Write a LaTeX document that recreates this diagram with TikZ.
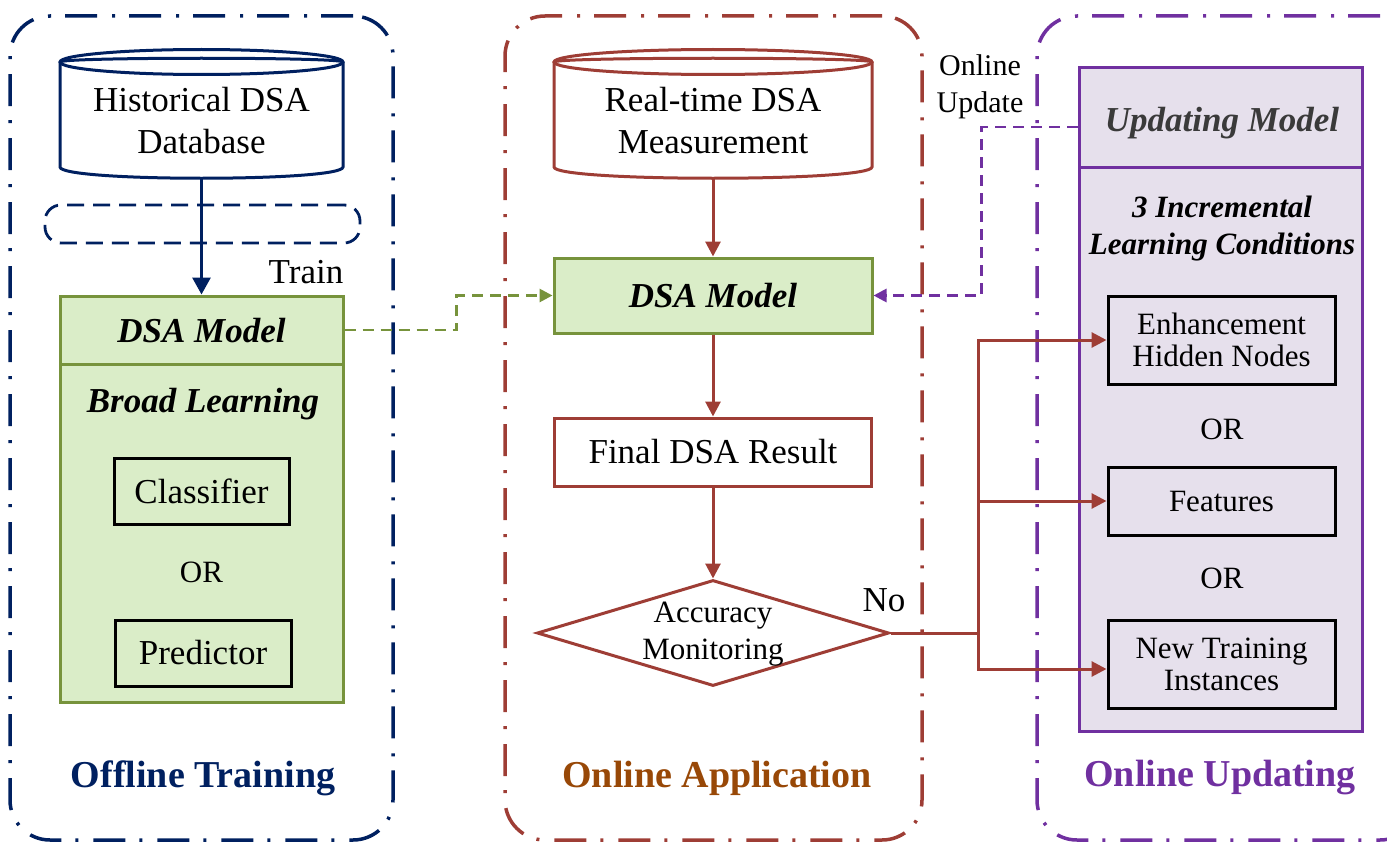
\documentclass[tikz,border=0pt]{standalone}
\usepackage{fontspec}
\setmainfont{Liberation Serif}
\usetikzlibrary{shapes.geometric,arrows.meta}

\definecolor{cNavy}{HTML}{002060}
\definecolor{cRed}{HTML}{9E3D35}
\definecolor{cRust}{HTML}{984807}
\definecolor{cPurple}{HTML}{7030A0}
\definecolor{cGreen}{HTML}{77933C}
\definecolor{cGreenFill}{HTML}{DAEDC8}
\definecolor{cLav}{HTML}{E6E0EC}
\definecolor{cDark}{HTML}{3A3A3A}

\newcommand\fsBody{\fontsize{35}{42}\selectfont}
\newcommand\fsSmall{\fontsize{31}{37}\selectfont}
\newcommand\fsTight{\fontsize{31}{32}\selectfont}
\newcommand\fsLabel{\fontsize{30}{37}\selectfont}
\newcommand\fsBig{\fontsize{38}{44}\selectfont\bfseries}

\tikzset{
  container/.style={draw, line width=3.5pt, rounded corners=40pt,
    dash pattern=on 32pt off 14pt on 3pt off 15pt, inner sep=0pt},
  box/.style={draw, line width=3pt, inner sep=0pt, align=center},
  cyl/.style={line width=3pt},
  conn/.style={line width=3pt},
  tipbig/.style={-{Triangle[length=17pt,width=18pt]}},
  tipmid/.style={-{Triangle[length=15pt,width=15pt]}},
  tipsmall/.style={-{Triangle[length=13pt,width=13pt]}},
  dashconn/.style={line width=2.8pt, dash pattern=on 11pt off 7pt},
  txt/.style={inner sep=0pt, align=center},
}

\begin{document}
\begin{tikzpicture}[x=1pt,y=-1pt]
\useasboundingbox (0,0) rectangle (1387,843);

% ---------- the three stage containers ----------
\begin{scope}
\clip (0,0) rectangle (1387,843);
\node[container, draw=cNavy, minimum width=383, minimum height=824] (offline) at (201.5,428) {};
\node[container, draw=cRed, minimum width=417, minimum height=824] (online) at (713.5,428) {};
\node[container, draw=cPurple, minimum width=383, minimum height=824] (updating) at (1228.5,428) {};
\end{scope}

% ---------- offline training ----------
\node[minimum width=283, minimum height=128, inner sep=0pt] (db1) at (201.5,114) {};
\draw[cyl, cNavy, fill=white] (60,62) -- (60,167) .. controls (60,182) and (343,182) .. (343,167) -- (343,62);
\draw[cyl, cNavy, fill=white] (201.5,62) ellipse [x radius=141.5, y radius=12.5];
\draw[cyl, cNavy] (60,62) .. controls (60,57) and (343,57) .. (343,62);
\node[txt, font=\fsBody] (db1t) at (201.5,121) {Historical DSA\\Database};

\node[draw=cNavy, line width=2.8pt, dash pattern=on 17pt off 9pt, rounded corners=16pt,
      minimum width=315, minimum height=38, inner sep=0pt] (slot) at (202.5,224) {};

\node[box, draw=cGreen, fill=cGreenFill, minimum width=283, minimum height=406] (gbox) at (201.5,499) {};
\node[box, draw=cGreen, minimum width=283, minimum height=68] (gtitle) at (201.5,330) {};
\node[txt, font=\fsBody\bfseries\itshape] (gtitlet) at (201.5,331) {DSA Model};
\node[txt, font=\fsBody\bfseries\itshape] (broad) at (203,404) {Broad Learning};
\node[box, minimum width=175, minimum height=66, font=\fsBody] (clf) at (201.5,491) {Classifier};
\node[txt, font=\fsSmall] (or1) at (201.5,572) {OR};
\node[box, minimum width=176, minimum height=66, font=\fsBody] (pred) at (203,653) {Predictor};
\node[txt, font=\fsBig, text=cNavy] (offt) at (203,778) {Offline Training};

\node[txt, font=\fsBody] (train) at (306,272) {Train};
\draw[conn, cNavy, tipbig] (db1.south) -- (gbox.north);

% ---------- online application ----------
\node[minimum width=318, minimum height=128, inner sep=0pt] (db2) at (713,114) {};
\draw[cyl, cRed, fill=white] (554,62) -- (554,167) .. controls (554,182) and (872,182) .. (872,167) -- (872,62);
\draw[cyl, cRed, fill=white] (713,62) ellipse [x radius=159, y radius=12.5];
\draw[cyl, cRed] (554,62) .. controls (554,57) and (872,57) .. (872,62);
\node[txt, font=\fsBody] (db2t) at (713,121) {Real-time DSA\\Measurement};

\node[box, draw=cGreen, fill=cGreenFill, minimum width=318, minimum height=75,
      font=\fsBody\bfseries\itshape] (mdl) at (713,295.5) {DSA Model};
\node[box, draw=cRed, fill=white, minimum width=317, minimum height=68, font=\fsBody] (final) at (713,452) {Final DSA Result};
\node[diamond, draw=cRed, line width=3pt, fill=white, minimum width=352, minimum height=106,
      inner sep=0pt] (acc) at (713,633) {};
\node[txt, font=\fsSmall] (acct) at (713,634) {Accuracy\\Monitoring};
\node[txt, font=\fsBody] (no) at (884,600) {No};
\node[txt, font=\fsBig, text=cRust] (onlt) at (717,778) {Online Application};

\draw[conn, cRed, tipmid] (db2.south) -- (mdl.north);
\draw[conn, cRed, tipmid] (mdl.south) -- (final.north);
\draw[conn, cRed, tipmid] (final.south) -- (acc.north);

% ---------- online updating ----------
\node[box, draw=cPurple, fill=cLav, minimum width=283, minimum height=663] (ubox) at (1220.5,399.5) {};
\node[box, draw=cPurple, minimum width=283, minimum height=99] (utitle) at (1220.5,117.5) {};
\node[txt, font=\fsBody\bfseries\itshape, text=cDark] (utitlet) at (1222,123) {Updating Model};
\node[txt, font=\fsSmall\bfseries\itshape] (cond) at (1222,229) {3 Incremental\\Learning Conditions};
\node[box, minimum width=227, minimum height=88, font=\fsTight] (enh) at (1221.5,340) {Enhancement\\Hidden Nodes};
\node[txt, font=\fsSmall] (or2) at (1222,429) {OR};
\node[box, minimum width=227, minimum height=68, font=\fsSmall] (feat) at (1221.5,501) {Features};
\node[txt, font=\fsSmall] (or3) at (1222,578) {OR};
\node[box, minimum width=227, minimum height=88, font=\fsTight] (newt) at (1221.5,664) {New Training\\Instances};
\node[txt, font=\fsBig, text=cPurple] (updt) at (1220,778) {Online Updating};

\node[txt, font=\fsLabel] (onupd) at (980,87) {Online\\Update};

% ---------- connectors between stages ----------
\coordinate (split) at (978,633);
\draw[conn, cRed] (acc.east) -- (split);
\draw[conn, cRed, tipmid] (split) |- (enh.west);
\draw[conn, cRed, tipmid] (split) |- (feat.west);
\draw[conn, cRed, tipmid] (split) |- ([yshift=-5pt]newt.west);

\draw[dashconn, cGreen, tipsmall] (gtitle.east) -- ++(112,0) |- (mdl.west);
\draw[dashconn, cPurple, tipsmall] ([yshift=-9.5pt]utitle.west) -- ++(-96,0) |- (mdl.east);
\end{tikzpicture}
\end{document}
